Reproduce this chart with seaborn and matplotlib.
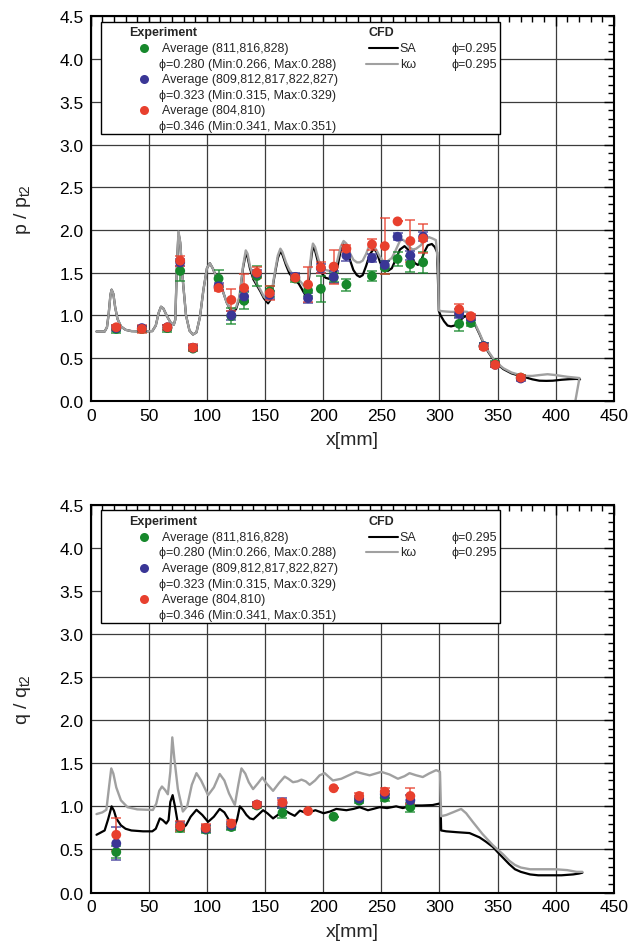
import numpy as np
import pandas as pd
import seaborn as sns
import matplotlib.pyplot as plt
from matplotlib.patches import Rectangle
from matplotlib.ticker import MultipleLocator, FormatStrFormatter

# ---------------- experiment, upper panel (p / pt2) ----------------
p_x = [22, 44, 66, 77, 88, 110, 121, 132, 143, 154, 176, 187, 198, 209, 220,
       242, 253, 264, 275, 286, 317, 327, 338, 348, 370]
p_green = [0.84, 0.84, 0.85, 1.52, 0.61, 1.43, 0.99, 1.17, 1.46, 1.28, 1.43, 1.29, 1.31, 1.44, 1.36,
           1.46, 1.56, 1.66, 1.60, 1.62, 0.90, 0.91, 0.64, 0.43, 0.27]
p_blue = [0.85, 0.85, 0.86, 1.62, 0.62, 1.34, 1.00, 1.22, 1.49, 1.24, 1.45, 1.20, 1.55, 1.45, 1.70,
          1.67, 1.59, 1.92, 1.70, 1.92, 1.02, 0.97, 0.64, 0.42, 0.26]
p_red = [0.86, 0.84, 0.86, 1.64, 0.62, 1.32, 1.18, 1.32, 1.50, 1.26, 1.44, 1.36, 1.56, 1.57, 1.78,
         1.83, 1.81, 2.10, 1.87, 1.90, 1.07, 0.99, 0.63, 0.42, 0.27]
p_green_err = [0.05, 0.03, 0.04, 0.12, 0.03, 0.10, 0.09, 0.10, 0.12, 0.06, 0.04, 0.06, 0.15, 0.05, 0.07,
               0.06, 0.08, 0.08, 0.09, 0.12, 0.08, 0.03, 0.03, 0.03, 0.03]
p_blue_err = [0.03, 0.03, 0.03, 0.04, 0.03, 0.04, 0.05, 0.07, 0.04, 0.05, 0.04, 0.06, 0.05, 0.07, 0.06,
              0.05, 0.05, 0.04, 0.05, 0.05, 0.05, 0.03, 0.03, 0.03, 0.03]
p_red_err = [0.03, 0.05, 0.03, 0.06, 0.04, 0.04, 0.13, 0.16, 0.06, 0.08, 0.03, 0.20, 0.07, 0.20, 0.04,
             0.06, 0.33, 0.00, 0.25, 0.17, 0.06, 0.03, 0.03, 0.03, 0.03]

# ---------------- CFD, upper panel ----------------
p_sa_x = [5, 12, 14, 15.5, 17, 18, 19.5, 21, 23, 26,
          30, 35, 45, 53, 56, 58.5, 60.5, 62.5, 66, 69,
          71.5, 72.8, 74, 75.5, 77, 79, 82, 85, 88, 91,
          94, 97, 100, 102.5, 105, 108, 111, 114, 117, 120,
          122.5, 125, 128, 131, 133.4, 135, 137, 140, 143, 146,
          149, 152.6, 155, 158, 161, 163.2, 165, 168, 171, 175,
          179, 182, 184, 186, 188, 190, 191.2, 193, 196, 199,
          202, 205.6, 209, 212, 215, 217.6, 220, 223, 226, 229,
          231.5, 234, 237, 240, 243.6, 246, 249, 252, 255.7, 259,
          262, 266, 270, 273, 276, 279, 281.5, 284, 287, 290,
          293.5, 296, 298, 298.8, 299.5, 301, 304, 307, 310, 313,
          317, 321, 324.4, 328, 331, 334.5, 338, 342, 348, 355,
          362, 369.4, 375, 380, 386, 392, 397.6, 405, 412, 418,
          421]
p_sa_y = [0.81, 0.81, 0.86, 1.02, 1.24, 1.30, 1.25, 1.10, 0.96, 0.87,
          0.83, 0.815, 0.81, 0.815, 0.88, 1.03, 1.10, 1.08, 0.98, 0.91,
          0.89, 0.95, 1.50, 1.97, 1.85, 1.45, 1.00, 0.82, 0.775, 0.80,
          0.98, 1.30, 1.55, 1.61, 1.55, 1.45, 1.39, 1.27, 1.15, 1.07,
          1.05, 1.07, 1.20, 1.55, 1.72, 1.68, 1.55, 1.42, 1.35, 1.28,
          1.20, 1.14, 1.19, 1.45, 1.67, 1.75, 1.71, 1.59, 1.49, 1.42,
          1.37, 1.30, 1.25, 1.27, 1.45, 1.70, 1.80, 1.76, 1.60, 1.49,
          1.44, 1.425, 1.44, 1.55, 1.75, 1.83, 1.79, 1.65, 1.53, 1.47,
          1.45, 1.47, 1.58, 1.71, 1.78, 1.74, 1.62, 1.54, 1.52, 1.55,
          1.64, 1.77, 1.81, 1.77, 1.68, 1.61, 1.59, 1.63, 1.74, 1.82,
          1.835, 1.80, 1.74, 1.40, 1.05, 1.00, 0.93, 0.88, 0.87, 0.88,
          0.93, 0.98, 0.995, 0.96, 0.88, 0.78, 0.67, 0.57, 0.45, 0.37,
          0.32, 0.29, 0.27, 0.25, 0.234, 0.232, 0.234, 0.245, 0.252, 0.255,
          0.25]
p_kw_x = [5, 12, 14, 15.5, 17, 18, 19.5, 21, 23, 26,
          30, 35, 45, 53, 56, 58.5, 60.5, 62.5, 66, 69,
          71.5, 72.8, 74, 75.5, 77, 79, 82, 85, 88, 91,
          94, 97, 100, 102.5, 105, 108, 111, 114, 117, 120,
          122.5, 125, 128, 131, 133.4, 135, 137, 140, 143, 146,
          149, 152.6, 155, 158, 161, 163.2, 165, 168, 171, 175,
          179, 182, 184, 186, 188, 190, 191.2, 193, 196, 199,
          202, 205.6, 209, 212, 215, 217.6, 220, 223, 226, 229,
          231.5, 234, 237, 240, 243, 246, 249, 252, 255, 259,
          262, 266, 268, 271, 274, 277, 280, 284, 287, 291,
          294, 297, 298.8, 299.5, 301, 305, 310, 315, 320, 324,
          328, 331, 334.5, 338, 342, 348, 355, 362, 369.4, 375,
          380, 386, 393, 400, 410, 420.5, 417]
p_kw_y = [0.81, 0.81, 0.86, 1.02, 1.24, 1.30, 1.25, 1.10, 0.96, 0.87,
          0.83, 0.815, 0.81, 0.815, 0.88, 1.03, 1.10, 1.08, 0.98, 0.91,
          0.89, 0.95, 1.50, 1.98, 1.86, 1.45, 1.00, 0.82, 0.775, 0.80,
          0.98, 1.30, 1.55, 1.61, 1.55, 1.45, 1.39, 1.27, 1.15, 1.08,
          1.07, 1.09, 1.22, 1.57, 1.76, 1.72, 1.58, 1.45, 1.37, 1.30,
          1.22, 1.17, 1.21, 1.47, 1.70, 1.78, 1.74, 1.62, 1.53, 1.46,
          1.42, 1.37, 1.33, 1.34, 1.50, 1.75, 1.84, 1.80, 1.65, 1.57,
          1.53, 1.52, 1.54, 1.63, 1.80, 1.87, 1.84, 1.73, 1.65, 1.62,
          1.62, 1.64, 1.72, 1.83, 1.82, 1.76, 1.68, 1.63, 1.63, 1.67,
          1.75, 1.87, 1.89, 1.86, 1.80, 1.77, 1.78, 1.82, 1.88, 1.915,
          1.90, 1.88, 1.60, 1.06, 1.05, 1.045, 1.04, 1.04, 1.045, 1.04,
          0.98, 0.89, 0.79, 0.68, 0.58, 0.46, 0.38, 0.33, 0.30, 0.29,
          0.29, 0.30, 0.31, 0.30, 0.28, 0.265, 0.0]

# ---------------- experiment, lower panel (q / qt2) ----------------
q_x = [22, 77, 99, 121, 143, 165, 187, 209, 231, 253, 275]
q_green = [0.47, 0.75, 0.73, 0.76, 1.01, 0.925, np.nan, 0.88, 1.065, 1.10, 0.99]
q_blue = [0.57, 0.77, 0.74, 0.78, 1.02, 1.04, np.nan, np.nan, 1.09, 1.14, 1.07]
q_red = [0.67, 0.77, 0.75, 0.80, 1.02, 1.045, 0.945, 1.21, 1.12, 1.17, 1.12]
q_green_err = [0.07, 0.05, 0.04, 0.04, 0.03, 0.06, np.nan, 0.0, 0.03, 0.04, 0.05]
q_blue_err = [0.19, 0.05, 0.04, 0.04, 0.03, 0.06, np.nan, np.nan, 0.03, 0.04, 0.06]
q_red_err = [0.19, 0.06, 0.04, 0.04, 0.03, 0.03, 0.0, 0.0, 0.04, 0.04, 0.09]

# ---------------- CFD, lower panel ----------------
q_sa_x = [5, 12, 15, 18, 20, 22, 26, 30, 35, 45,
          53, 56, 59.5, 62, 65, 67, 68.5, 70.5, 72.5, 75,
          78, 82, 86, 91, 96, 101, 106, 111, 115, 119,
          122, 124, 126, 128.3, 131, 134, 137, 140, 144, 148.3,
          152, 156.9, 161, 166.9, 171, 175.5, 180, 186, 193.3, 200.4,
          206, 211.3, 220, 226, 231.4, 238.5, 243, 248.5, 255, 262.8,
          268.5, 277, 285, 294.2, 301, 301.5, 305.8, 315, 325.9, 334.5,
          340, 345.9, 350, 355, 360, 365, 370, 378, 385, 395,
          405, 415, 420, 423]
q_sa_y = [0.67, 0.72, 0.85, 1.00, 0.95, 0.86, 0.78, 0.74, 0.72, 0.71,
          0.71, 0.74, 0.86, 0.84, 0.80, 0.84, 1.05, 1.13, 1.00, 0.80,
          0.74, 0.78, 0.88, 0.96, 0.90, 0.82, 0.88, 0.97, 0.93, 0.84,
          0.79, 0.78, 0.85, 1.00, 0.96, 0.90, 0.86, 0.85, 0.90, 0.955,
          0.92, 0.86, 0.90, 0.955, 0.92, 0.89, 0.95, 0.92, 0.955, 0.92,
          0.94, 0.97, 0.955, 0.97, 0.99, 0.955, 0.97, 0.99, 0.98, 1.00,
          0.98, 1.01, 1.01, 1.015, 1.035, 0.72, 0.71, 0.70, 0.69, 0.64,
          0.59, 0.53, 0.47, 0.40, 0.33, 0.27, 0.24, 0.21, 0.20, 0.20,
          0.20, 0.21, 0.22, 0.23]
q_kw_x = [5, 10, 13.5, 16, 17.7, 19.5, 22, 26, 31.7, 40,
          53.5, 56.4, 59, 61.3, 64, 66.4, 68.5, 70.2, 72, 75,
          79.3, 83, 87, 91, 95, 101, 106, 111, 115, 119,
          124, 127, 129.7, 133, 136, 139.7, 144, 147.7, 151, 156.9,
          162, 166.9, 170, 174, 178, 181.3, 185, 188.4, 193, 197,
          201.3, 205, 208.4, 212, 215.6, 222, 228.5, 234, 240, 245,
          250, 257, 264.3, 270, 274.3, 280, 285.7, 291, 297.2, 300.5,
          301.5, 306, 311.5, 318.7, 323, 328.7, 337, 345.9, 350, 355,
          360, 365, 370, 378, 390, 400, 410, 418, 423]
q_kw_y = [0.91, 0.93, 0.96, 1.25, 1.44, 1.38, 1.22, 1.07, 0.99, 0.965,
          0.958, 1.03, 1.18, 1.23, 1.19, 1.14, 1.40, 1.80, 1.55, 1.20,
          0.94, 1.00, 1.25, 1.385, 1.30, 1.13, 1.22, 1.375, 1.30, 1.15,
          1.015, 1.25, 1.44, 1.38, 1.28, 1.20, 1.27, 1.335, 1.27, 1.18,
          1.27, 1.345, 1.32, 1.28, 1.29, 1.31, 1.29, 1.25, 1.30, 1.36,
          1.385, 1.34, 1.30, 1.31, 1.32, 1.36, 1.40, 1.38, 1.36, 1.38,
          1.40, 1.37, 1.32, 1.35, 1.385, 1.36, 1.34, 1.38, 1.42, 1.40,
          0.885, 0.90, 0.93, 0.97, 0.92, 0.82, 0.68, 0.55, 0.50, 0.44,
          0.37, 0.32, 0.29, 0.27, 0.27, 0.27, 0.26, 0.24, 0.24]

# legend text
exp_names = ["Average (811,816,828)", "Average (809,812,817,822,827)", "Average (804,810)"]
exp_phis = ["ϕ=0.280 (Min:0.266, Max:0.288)", "ϕ=0.323 (Min:0.315, Max:0.329)",
            "ϕ=0.346 (Min:0.341, Max:0.351)"]
cfd_phi = "ϕ=0.295"

GREEN, BLUE, RED = "#17882c", "#3a3696", "#e8402e"
GRAY = "#a0a0a0"

sns.set_theme(style="white")
plt.rcParams['font.family'] = ['Liberation Sans', 'DejaVu Sans']
plt.rcParams['mathtext.default'] = 'regular'


def draw_key(ax):
    # boxed key with two groups, drawn in axes fraction
    ax.add_patch(Rectangle((0.019, 0.694), 0.763, 0.291, transform=ax.transAxes,
                           facecolor="white", edgecolor="black", lw=1.0, zorder=8))
    kw = dict(transform=ax.transAxes, fontsize=9, va="center", zorder=9)
    rows = [0.9586, 0.917, 0.8767, 0.8363, 0.796, 0.7557, 0.7153]
    ax.text(0.073, rows[0], "Experiment", fontweight="bold", **kw)
    for i, c in enumerate([GREEN, BLUE, RED]):
        ax.plot([0.102], [rows[1 + 2 * i]], "o", color=c, ms=6.5, mec="none",
                transform=ax.transAxes, zorder=9, clip_on=False)
        ax.text(0.1357, rows[1 + 2 * i], exp_names[i], **kw)
        ax.text(0.131, rows[2 + 2 * i], exp_phis[i], **kw)
    ax.text(0.5305, rows[0], "CFD", fontweight="bold", **kw)
    ax.plot([0.532, 0.588], [rows[1], rows[1]], color="black", lw=1.5,
            transform=ax.transAxes, zorder=9)
    ax.plot([0.527, 0.588], [rows[2], rows[2]], color=GRAY, lw=1.5,
            transform=ax.transAxes, zorder=9)
    ax.text(0.591, rows[1], "SA", **kw)
    ax.text(0.591, rows[2], "kω", **kw)
    ax.text(0.69, rows[1], cfd_phi, **kw)
    ax.text(0.69, rows[2], cfd_phi, **kw)


def draw_panel(ax, ex, series, sa_x, sa_y, kw_x, kw_y, ylabel):
    ax.grid(True, which="major", color="#3c3c3c", lw=0.9)
    ax.set_axisbelow(True)
    # SA first, k-omega drawn over it (grey shows where the two coincide)
    sns.lineplot(x=sa_x, y=sa_y, sort=False, estimator=None, color="black", lw=1.6, ax=ax, zorder=2)
    sns.lineplot(x=kw_x, y=kw_y, sort=False, estimator=None, color=GRAY, lw=1.7, ax=ax, zorder=2)
    for ys, err, c in series:
        ax.errorbar(ex, ys, yerr=err, fmt="none", ecolor=c, elinewidth=1.1,
                    capsize=3.5, capthick=1.1, alpha=0.85, zorder=3)
        sns.scatterplot(x=ex, y=ys, color=c, s=50, edgecolor="none", ax=ax, zorder=4, legend=False)

    ax.set_xlim(0, 450)
    ax.set_ylim(0, 4.5)
    ax.xaxis.set_major_locator(MultipleLocator(50))
    ax.xaxis.set_minor_locator(MultipleLocator(10))
    ax.yaxis.set_major_locator(MultipleLocator(0.5))
    ax.yaxis.set_minor_locator(MultipleLocator(0.1))
    ax.yaxis.set_major_formatter(FormatStrFormatter("%.1f"))
    ax.tick_params(which="both", direction="in", top=True, right=True, colors="black",
                   labelsize=12.5, pad=5)
    ax.tick_params(which="major", length=7, width=1.0)
    ax.tick_params(which="minor", length=4, width=1.0)
    for s in ax.spines.values():
        s.set_color("black")
        s.set_linewidth(1.5)
    ax.set_xlabel("x[mm]", fontsize=14, labelpad=6)
    ax.set_ylabel(ylabel, fontsize=14)
    ax.yaxis.set_label_coords(-0.11, 0.5)
    draw_key(ax)


fig = plt.figure(figsize=(6.4, 9.53), dpi=100)
ax1 = fig.add_axes([0.1417, 0.5785, 0.8173, 0.4032])
ax2 = fig.add_axes([0.1417, 0.0624, 0.8173, 0.4070])

draw_panel(ax1, p_x,
           [(p_green, p_green_err, GREEN), (p_blue, p_blue_err, BLUE), (p_red, p_red_err, RED)],
           p_sa_x, p_sa_y, p_kw_x, p_kw_y, "p / p$_{t2}$")
draw_panel(ax2, q_x,
           [(q_green, q_green_err, GREEN), (q_blue, q_blue_err, BLUE), (q_red, q_red_err, RED)],
           q_sa_x, q_sa_y, q_kw_x, q_kw_y, "q / q$_{t2}$")

fig.savefig("out.png", dpi=100)
